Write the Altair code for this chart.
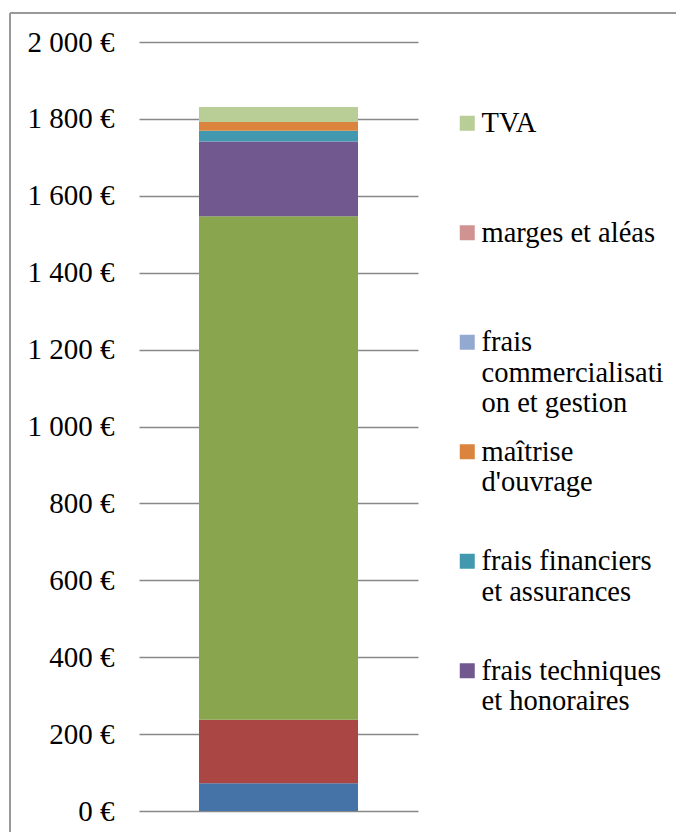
import json
import altair as alt
import pandas as pd

# Stack order, bottom to top
categories = [
    "charge foncière",
    "VRD et aménagements",
    "travaux de construction",
    "frais techniques et honoraires",
    "frais financiers et assurances",
    "maîtrise d'ouvrage",
    "frais commercialisation et gestion",
    "marges et aléas",
    "TVA",
]
values = [72, 165, 1310, 194, 28, 23, 0, 0, 39]
colors = ["#4572A7", "#AA4643", "#89A54E", "#71588F", "#4198AF",
          "#DB843D", "#93A9CF", "#D19392", "#B9CD96"]

# Legend entries visible in the original (top part of the legend)
legend_entries = ["TVA", "marges et aléas", "frais commercialisation et gestion",
                  "maîtrise d'ouvrage", "frais financiers et assurances",
                  "frais techniques et honoraires"]
legend_lines = [["TVA"], ["marges et aléas"], ["frais", "commercialisati", "on et gestion"],
                ["maîtrise", "d'ouvrage"], ["frais financiers", "et assurances"],
                ["frais techniques", "et honoraires"]]

y_ticks = [0, 200, 400, 600, 800, 1000, 1200, 1400, 1600, 1800, 2000]

df = pd.DataFrame({
    "groupe": ["coût"] * len(categories),
    "poste": categories,
    "montant": values,
    "ordre": list(range(len(categories))),
})

# every legend label padded to 3 lines so that entries are evenly spaced
expr = "[datum.label, '', '']"
for name, lines in reversed(list(zip(legend_entries, legend_lines))):
    padded = lines + [""] * (3 - len(lines))
    expr = f"datum.label == {json.dumps(name)} ? {json.dumps(padded)} : {expr}"

FONT = "Liberation Serif"
FS = 28.5

bars = alt.Chart(df).mark_bar(width=159).encode(
    x=alt.X("groupe:N", axis=None),
    y=alt.Y("montant:Q", stack="zero",
            scale=alt.Scale(domain=[0, 2000], nice=False),
            axis=alt.Axis(values=y_ticks, title=None, domain=False, ticks=False,
                          labelExpr="replace(format(datum.value, ','), ',', ' ') + ' €'",
                          labelFont=FONT, labelFontSize=29, labelColor="#000000",
                          labelPadding=25, gridColor="#888888", gridWidth=1.5)),
    color=alt.Color("poste:N",
                    scale=alt.Scale(domain=categories, range=colors),
                    legend=alt.Legend(values=legend_entries, title=None, orient="none",
                                      legendX=307, legendY=67, padding=0,
                                      symbolType="square", symbolSize=225,
                                      symbolStrokeWidth=0, symbolOpacity=1,
                                      symbolOffset=7,
                                      labelFont=FONT, labelFontSize=FS,
                                      labelColor="#000000", labelLimit=400,
                                      labelOffset=0, labelExpr=expr,
                                      rowPadding=19.5)),
    order=alt.Order("ordre:Q", sort="ascending"),
)

frame_df = pd.DataFrame({"k": [0]})
top_line = alt.Chart(frame_df).mark_rule(color="#999999", strokeWidth=2).encode(
    x=alt.value(-129), x2=alt.value(545), y=alt.value(-29))
left_line = alt.Chart(frame_df).mark_rule(color="#999999", strokeWidth=2).encode(
    x=alt.value(-129), y=alt.value(-29), y2=alt.value(800))

chart = alt.layer(bars, top_line, left_line).properties(
    width=279, height=769,
    autosize=alt.AutoSizeParams(type="none"),
    padding={"left": 131, "top": 34, "right": 258, "bottom": 25},
    background="#ffffff",
).configure_view(stroke=None).configure_legend(labelFont=FONT, labelFontSize=FS)

chart.save("out.html", embed_options={"renderer": "svg", "actions": False})
